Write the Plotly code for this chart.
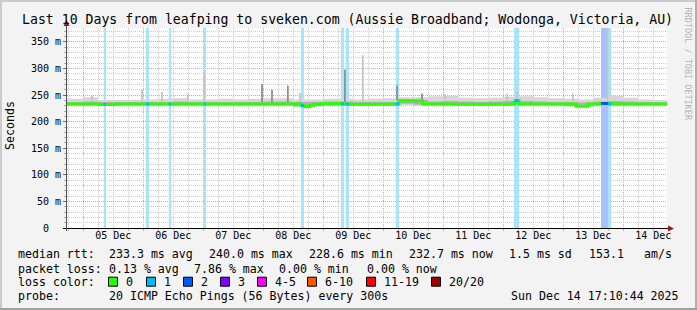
import plotly.graph_objects as go
import pandas as pd

# ---------------- data ----------------
X_START, X_END = "2025-12-04 17:30", "2025-12-14 17:30"
Y_TOP = 376.3

day_label_times = ["2025-12-05 12:00", "2025-12-06 12:00", "2025-12-07 12:00", "2025-12-08 12:00",
                   "2025-12-09 12:00", "2025-12-10 12:00", "2025-12-11 12:00", "2025-12-12 12:00",
                   "2025-12-13 12:00", "2025-12-14 12:00"]
day_labels = ["05 Dec", "06 Dec", "07 Dec", "08 Dec", "09 Dec", "10 Dec", "11 Dec", "12 Dec", "13 Dec", "14 Dec"]

y_ticks = [0, 50, 100, 150, 200, 250, 300, 350]
y_tick_text = ["0\u00a0\u00a0", "50 m", "100 m", "150 m", "200 m", "250 m", "300 m", "350 m"]

# median rtt (ms), step changes
med_time = ["2025-12-04 17:30", "2025-12-05 06:40", "2025-12-05 12:40", "2025-12-08 14:40",
            "2025-12-08 15:30", "2025-12-08 16:20", "2025-12-08 18:40", "2025-12-08 20:20",
            "2025-12-08 22:40", "2025-12-09 04:40", "2025-12-09 07:50", "2025-12-09 10:40",
            "2025-12-10 06:20", "2025-12-10 15:50", "2025-12-11 03:30", "2025-12-12 04:20",
            "2025-12-12 05:10", "2025-12-12 06:20", "2025-12-13 05:05", "2025-12-13 09:55",
            "2025-12-13 15:05", "2025-12-13 19:05", "2025-12-14 17:30"]
med_value = [233.3, 232.5, 233.3, 232.8, 230.5, 228.8, 231.0, 232.8, 233.6, 234.2, 233.5, 232.8,
             239.5, 233.5, 232.8, 236.0, 239.5, 233.2, 229.2, 233.3, 234.2, 233.2, 233.2]

# smoke (ping spread) in 6 h slots starting 2025-12-04 12:00
smoke_time = pd.date_range("2025-12-04 12:00", periods=42, freq="6h")
smoke_hi_out = [242, 243, 246, 241, 241, 241, 242, 243, 244, 242, 242, 243, 242, 243, 244, 244,
                242, 242, 243, 243, 242, 243, 244, 246, 246, 248, 249, 245, 244, 245, 247, 248,
                246, 244, 243, 242, 245, 249, 245, 242, 241, 241]
smoke_lo_out = [229.5, 229.5, 229.5, 229.0, 229.5, 229.5, 229.5, 229.5, 229.5, 229.5, 229.5, 229.5,
                229.5, 229.5, 229.5, 229.5, 226.5, 228.0, 229.5, 229.5, 229.5, 229.5, 229.5, 231.0,
                230.0, 229.5, 229.5, 229.5, 229.5, 229.5, 229.5, 229.5, 229.5, 229.5, 228.0, 227.0,
                229.5, 229.5, 229.5, 229.5, 229.5, 229.5]
smoke_hi_in = [237, 237, 238, 237, 237, 237, 237, 237, 238, 237, 237, 237, 237, 237, 238, 238,
               237, 237, 238, 238, 237, 237, 237, 242, 241, 238, 239, 238, 237, 238, 239, 239,
               238, 237, 237, 236, 238, 239, 238, 237, 237, 237]
smoke_lo_in = [231, 231, 231, 230.5, 231, 231, 231, 231, 231, 231, 231, 231, 231, 231, 231, 231,
               228.5, 229.5, 231, 231, 231, 231, 231, 234, 232, 231, 231, 231, 231, 231, 231, 231,
               231, 231, 229.5, 228.5, 231, 231, 231, 231, 231, 231]

# isolated high pings
spike_time = ["2025-12-05 03:30", "2025-12-05 23:30", "2025-12-06 07:30", "2025-12-06 17:50",
              "2025-12-07 00:20", "2025-12-07 23:30", "2025-12-08 03:30", "2025-12-08 09:50",
              "2025-12-08 14:40", "2025-12-09 08:40", "2025-12-09 15:50", "2025-12-10 05:30",
              "2025-12-10 15:30", "2025-12-11 00:40", "2025-12-12 01:30", "2025-12-12 05:30",
              "2025-12-13 03:50", "2025-12-13 17:40"]
spike_base = [238, 238, 238, 238, 238, 237, 237, 237, 237, 237, 238, 240, 237, 240, 240, 240, 239, 240]
spike_top = [250, 260, 256, 253, 292, 271, 260, 268, 254, 298, 325, 268, 253, 252, 253, 256, 253, 376]
spike_dark = [0, 0, 0, 0, 0, 1, 1, 1, 0, 1, 0, 1, 1, 0, 0, 0, 0, 0]

# packet loss events
loss_time = ["2025-12-05 08:40", "2025-12-06 01:40", "2025-12-06 10:40", "2025-12-07 00:40",
             "2025-12-08 15:40", "2025-12-09 07:40", "2025-12-09 09:40", "2025-12-10 05:40",
             "2025-12-12 05:20", "2025-12-13 16:30", "2025-12-13 18:30"]
loss_hours = [0.9, 1.2, 0.9, 0.9, 1.2, 1.2, 1.2, 1.2, 2.0, 2.8, 1.2]
loss_count = [1, 1, 1, 1, 1, 1, 1, 1, 1, 2, 1]
loss_median = [233.0, 233.3, 233.3, 233.3, 230.5, 233.5, 233.0, 234.0, 239.5, 234.2, 233.4]

legend_labels = ["0", "1", "2", "3", "4-5", "6-10", "11-19", "20/20"]
legend_colors = ["#26ff00", "#00b8ff", "#0059ff", "#7e00ff", "#ff00ff", "#ff5500", "#ff0000", "#a10000"]
loss_bar_colors = {1: "#a8e3fa", 2: "#a8c1fa"}

stats_rows = [
    [("median rtt:", 16), ("233.3 ms avg", 107), ("240.0 ms max", 207), ("228.6 ms min", 307),
     ("232.7 ms now", 407), ("1.5 ms sd", 507), ("153.1", 587), ("am/s", 642)],
    [("packet loss:", 16), ("0.13 % avg", 107), ("7.86 % max", 192), ("0.00 % min", 277),
     ("0.00 % now", 365)],
]
probe_text = "20 ICMP Echo Pings (56 Bytes) every 300s"
stamp_text = "Sun Dec 14 17:10:44 2025"
title_text = "Last 10 Days from leafping to sveken.com (Aussie Broadband; Wodonga, Victoria, AU)"

# ---------------- layout geometry (pixels) ----------------
W, H = 697, 310
PL, PR, PT, PB = 67, 667, 28, 228
FONT = "DejaVu Sans Mono"
HOUR = 3600 * 1000


def px(x):
    return (x - PL) / (PR - PL)


def py(y):
    return (PB - y) / (PB - PT)


fig = go.Figure()

# loss bars (full height)
fig.add_trace(go.Bar(
    x=loss_time, y=[Y_TOP] * len(loss_time), base=0,
    width=[h * HOUR for h in loss_hours],
    marker=dict(color=[loss_bar_colors[c] for c in loss_count], line=dict(width=0)),
    hoverinfo="skip", showlegend=False))

# smoke bands
fig.add_trace(go.Scatter(x=smoke_time, y=smoke_lo_out, mode="lines", line=dict(width=0, shape="hv"),
                         showlegend=False, hoverinfo="skip"))
fig.add_trace(go.Scatter(x=smoke_time, y=smoke_hi_out, mode="lines", line=dict(width=0, shape="hv"),
                         fill="tonexty", fillcolor="#d6d6d6", showlegend=False, hoverinfo="skip"))
fig.add_trace(go.Scatter(x=smoke_time, y=smoke_lo_in, mode="lines", line=dict(width=0, shape="hv"),
                         showlegend=False, hoverinfo="skip"))
fig.add_trace(go.Scatter(x=smoke_time, y=smoke_hi_in, mode="lines", line=dict(width=0, shape="hv"),
                         fill="tonexty", fillcolor="#b2b2b2", showlegend=False, hoverinfo="skip"))

# spikes
for dark, col in ((0, "#c4c4c4"), (1, "#8e8e8e")):
    xs, ys = [], []
    for t, b, tp, d in zip(spike_time, spike_base, spike_top, spike_dark):
        if d == dark:
            xs += [t, t, None]
            ys += [b, tp, None]
    fig.add_trace(go.Scatter(x=xs, y=ys, mode="lines", line=dict(color=col, width=1.8),
                             showlegend=False, hoverinfo="skip"))

# median line (on overlay axis so it sits on top)
fig.add_trace(go.Scatter(x=med_time, y=med_value, mode="lines", xaxis="x2",
                         line=dict(color=legend_colors[0], width=3, shape="hv"),
                         showlegend=False, hoverinfo="skip"))
for cnt in sorted(set(loss_count)):
    xs, ys = [], []
    for t, h, c, m in zip(loss_time, loss_hours, loss_count, loss_median):
        if c == cnt:
            tc = pd.Timestamp(t)
            xs += [tc - pd.Timedelta(hours=h / 2), tc + pd.Timedelta(hours=h / 2), None]
            ys += [m, m, None]
    fig.add_trace(go.Scatter(x=xs, y=ys, mode="lines", xaxis="x2",
                             line=dict(color=legend_colors[cnt], width=3),
                             showlegend=False, hoverinfo="skip"))

GRID_MAJ = "#e3a0a0"
GRID_MIN = "#cdcdcd"
DASH = "1px,1px"

fig.update_layout(
    width=W, height=H, autosize=False,
    margin=dict(l=PL, r=W - PR, t=PT, b=H - PB, pad=0),
    paper_bgcolor="#f3f3f3", plot_bgcolor="#ffffff",
    barmode="overlay", showlegend=False,
    font=dict(family=FONT, color="#000000", size=10),
    xaxis=dict(type="date", range=[X_START, X_END], tick0="2025-12-05", dtick=86400000,
               showgrid=True, gridcolor=GRID_MAJ, griddash=DASH, gridwidth=1,
               showticklabels=False, ticks="outside", ticklen=2, tickcolor=GRID_MAJ,
               zeroline=False, showline=False,
               minor=dict(dtick=6 * HOUR, tick0="2025-12-05", showgrid=True, gridcolor=GRID_MIN,
                          griddash=DASH, ticks="outside", ticklen=2, tickcolor="#bbbbbb")),
    xaxis2=dict(type="date", range=[X_START, X_END], overlaying="x", anchor="y", side="bottom",
                tickmode="array", tickvals=day_label_times, ticktext=day_labels, showgrid=False,
                zeroline=False, showline=False, ticks="", tickfont=dict(size=10, family=FONT)),
    yaxis=dict(range=[0, Y_TOP], tickmode="array", tickvals=y_ticks, ticktext=y_tick_text,
               showgrid=True, gridcolor=GRID_MAJ, griddash=DASH, zeroline=False, showline=False,
               ticks="outside", ticklen=3, tickcolor="#666666", tickfont=dict(size=10, family=FONT),
               minor=dict(dtick=10, tick0=0, showgrid=True, gridcolor=GRID_MIN, griddash=DASH,
                          ticks="outside", ticklen=2, tickcolor="#aaaaaa")),
)

ann = []
ann.append(dict(text=title_text, x=px(347), y=py(19), xref="paper", yref="paper",
                xanchor="center", yanchor="middle", showarrow=False,
                font=dict(family=FONT, size=13.2, color="#000000")))
ann.append(dict(text="Seconds", x=px(10), y=py(126), xref="paper", yref="paper", textangle=-90,
                xanchor="center", yanchor="middle", showarrow=False,
                font=dict(family=FONT, size=11.6, color="#000000")))
ann.append(dict(text="RRDTOOL / TOBI OETIKER", x=px(688), y=py(5), xref="paper", yref="paper",
                textangle=90, xanchor="center", yanchor="top", showarrow=False,
                font=dict(family=FONT, size=8.5, color="#b4b4b4")))
LEG = dict(family=FONT, size=11.6, color="#000000")
row_y = [254, 268.5, 281.7, 296]
for r, row in enumerate(stats_rows):
    for txt, xx in row:
        ann.append(dict(text=txt, x=px(xx), y=py(row_y[r]), xref="paper", yref="paper",
                        xanchor="left", yanchor="middle", showarrow=False, font=LEG))
ann.append(dict(text="loss color:", x=px(16), y=py(row_y[2]), xref="paper", yref="paper",
                xanchor="left", yanchor="middle", showarrow=False, font=LEG))
box_x = [108, 146, 183, 220, 257, 307, 366, 431]
shapes = []
for bx, lab, col in zip(box_x, legend_labels, legend_colors):
    shapes.append(dict(type="rect", xref="paper", yref="paper", x0=px(bx + 0.5), x1=px(bx + 9.5),
                       y0=py(row_y[2] - 4.5), y1=py(row_y[2] + 4.5), fillcolor=col,
                       line=dict(color="#000000", width=1)))
    ann.append(dict(text=lab, x=px(bx + 16), y=py(row_y[2]), xref="paper", yref="paper",
                    xanchor="left", yanchor="middle", showarrow=False, font=LEG))
ann.append(dict(text="probe:", x=px(16), y=py(row_y[3]), xref="paper", yref="paper",
                xanchor="left", yanchor="middle", showarrow=False, font=LEG))
ann.append(dict(text=probe_text, x=px(107), y=py(row_y[3]), xref="paper", yref="paper",
                xanchor="left", yanchor="middle", showarrow=False, font=LEG))
ann.append(dict(text=stamp_text, x=px(681), y=py(row_y[3]), xref="paper", yref="paper",
                xanchor="right", yanchor="middle", showarrow=False, font=LEG))

# axes lines and arrows
AX_RED = "#9b1c1c"
shapes.append(dict(type="line", xref="paper", yref="paper", x0=px(63), x1=px(669),
                   y0=py(228.5), y1=py(228.5), line=dict(color="#000000", width=1)))
shapes.append(dict(type="line", xref="paper", yref="paper", x0=px(66.5), x1=px(66.5),
                   y0=py(231), y1=py(23), line=dict(color="#505050", width=1)))
shapes.append(dict(type="path", xref="paper", yref="paper",
                   path=f"M {px(63.5)},{py(26)} L {px(69.5)},{py(26)} L {px(66.5)},{py(20)} Z",
                   fillcolor=AX_RED, line=dict(width=0)))
shapes.append(dict(type="path", xref="paper", yref="paper",
                   path=f"M {px(668)},{py(225.5)} L {px(668)},{py(231.5)} L {px(674)},{py(228.5)} Z",
                   fillcolor=AX_RED, line=dict(width=0)))
# frame
shapes.append(dict(type="rect", xref="paper", yref="paper", x0=px(0), x1=px(2), y0=py(310), y1=py(0),
                   fillcolor="#cbcbcb", line=dict(width=0)))
shapes.append(dict(type="rect", xref="paper", yref="paper", x0=px(0), x1=px(697), y0=py(2), y1=py(0),
                   fillcolor="#cbcbcb", line=dict(width=0)))
shapes.append(dict(type="rect", xref="paper", yref="paper", x0=px(695), x1=px(697), y0=py(310), y1=py(0),
                   fillcolor="#b0b0b0", line=dict(width=0)))
shapes.append(dict(type="rect", xref="paper", yref="paper", x0=px(0), x1=px(697), y0=py(310), y1=py(308),
                   fillcolor="#a0a0a0", line=dict(width=0)))

fig.update_layout(annotations=ann, shapes=shapes)
fig.write_html("out.html")
